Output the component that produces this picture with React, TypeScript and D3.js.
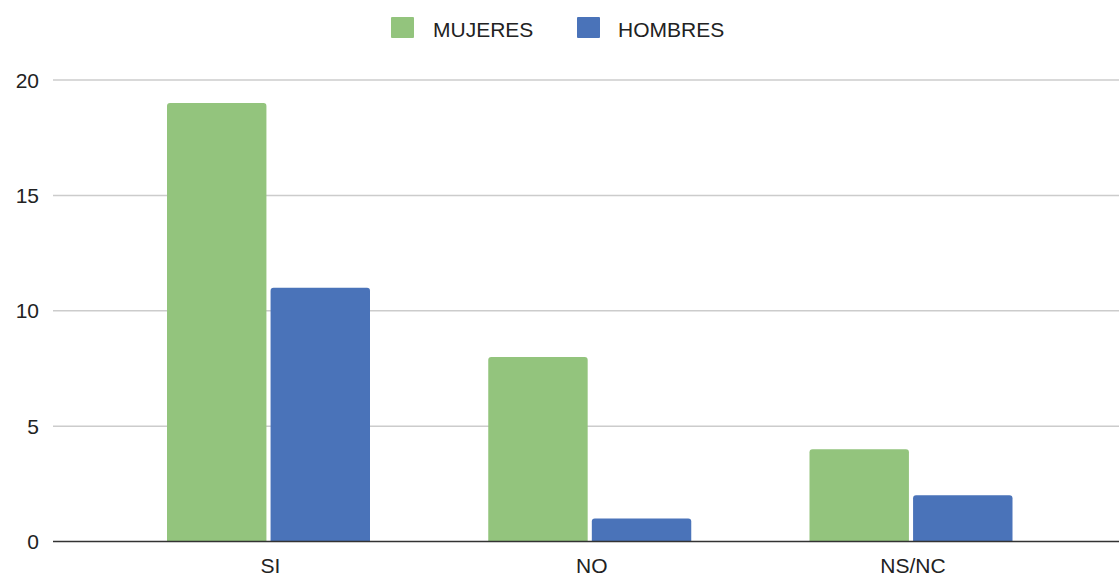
import React from "react";
import * as d3 from "d3";

const categories = ["SI", "NO", "NS/NC"];
const series = ["MUJERES", "HOMBRES"];
const mujeres = [19, 8, 4];
const hombres = [11, 1, 2];
const yTicks = [0, 5, 10, 15, 20];
const colors = ["#93c47d", "#4a73b9"];

const W = 1119;
const H = 577;

export default function App() {
  const x = d3.scalePoint<string>().domain(categories).range([268.5, 911]);
  const xs = d3.scaleBand<string>().domain(series).range([-101.5, 101.5]).paddingInner(0.04);
  const y = d3.scaleLinear().domain([0, 20]).range([541.5, 80]);
  const values = [mujeres, hombres];
  const font = "'Liberation Sans', Arial, sans-serif";
  const r = 3;

  const barPath = (x0: number, w: number, yTop: number, yBot: number) => {
    const rr = Math.min(r, (yBot - yTop) / 2);
    return `M${x0},${yBot}V${yTop + rr}Q${x0},${yTop} ${x0 + rr},${yTop}H${x0 + w - rr}Q${x0 + w},${yTop} ${x0 + w},${yTop + rr}V${yBot}Z`;
  };

  const legend = [
    { name: series[0], sx: 391, tx: 433 },
    { name: series[1], sx: 577, tx: 618 },
  ];

  return (
    <svg width={W} height={H} style={{ position: "absolute", left: 0, top: 0, background: "#fff" }}>
      <rect x={0} y={0} width={W} height={H} fill="#fff" />
      {legend.map((l, i) => (
        <g key={l.name}>
          <rect x={l.sx} y={17} width={23} height={21} fill={colors[i]} rx={1} />
          <text x={l.tx} y={37} fontFamily={font} fontSize={21} fill="#222">
            {l.name}
          </text>
        </g>
      ))}
      {yTicks.map((t) => (
        <g key={t}>
          {t !== 0 && <line x1={53} x2={W} y1={y(t)} y2={y(t)} stroke="#cccccc" strokeWidth={1.5} />}
          <text
            x={39}
            y={y(t)}
            dy="0.36em"
            textAnchor="end"
            fontFamily={font}
            fontSize={21}
            fill="#222"
          >
            {t}
          </text>
        </g>
      ))}
      {categories.map((c, ci) =>
        series.map((s, si) => {
          const x0 = (x(c) as number) + (xs(s) as number);
          return (
            <path
              key={c + s}
              d={barPath(x0, xs.bandwidth(), y(values[si][ci]), y(0))}
              fill={colors[si]}
            />
          );
        })
      )}
      <line x1={53} x2={W} y1={y(0)} y2={y(0)} stroke="#333" strokeWidth={1.5} />
      {categories.map((c) => (
        <text
          key={c}
          x={(x(c) as number) + 2}
          y={573}
          textAnchor="middle"
          fontFamily={font}
          fontSize={21}
          fill="#222"
        >
          {c}
        </text>
      ))}
    </svg>
  );
}
